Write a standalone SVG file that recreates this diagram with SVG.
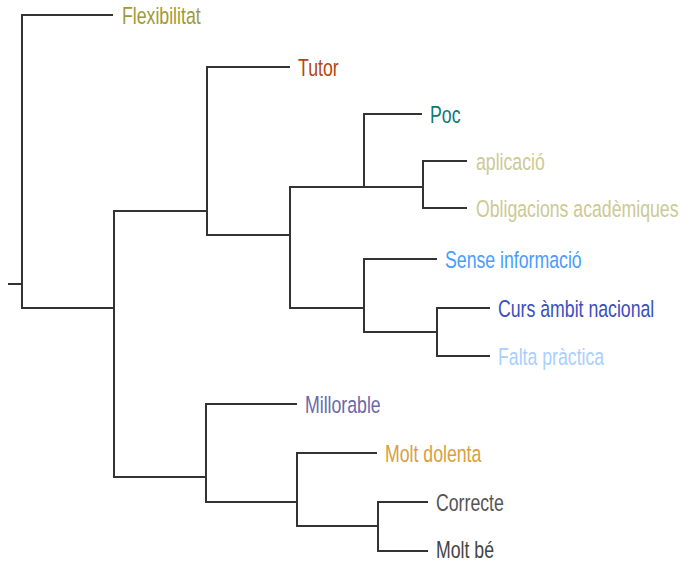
<svg xmlns="http://www.w3.org/2000/svg" width="681" height="563" viewBox="0 0 681 563">
  <style>
    .edge { fill: none; stroke: #333; stroke-width: 2; stroke-linejoin: miter; }
    .lbl { font-family: "Liberation Sans", Arial, sans-serif; font-size: 17.7px; }
  </style>
  <rect width="681" height="563" fill="#fff"/>

  <!-- dendrogram branches -->
  <g id="connectors">
    <path class="edge" d="M8,284 H22"/>
    <path class="edge" d="M113,15 H22 V308 H114"/>
    <path class="edge" d="M207,211 H114 V477 H206"/>
    <path class="edge" d="M290,67 H207 V235 H290"/>
    <path class="edge" d="M364,187 H290 V308 H364"/>
    <path class="edge" d="M422,114 H364 V187 H423"/>
    <path class="edge" d="M467,161 H423 V208 H467"/>
    <path class="edge" d="M437,259 H364 V332 H437"/>
    <path class="edge" d="M490,308 H437 V356 H490"/>
    <path class="edge" d="M297,404 H206 V502 H297"/>
    <path class="edge" d="M377,453 H297 V526 H378"/>
    <path class="edge" d="M428,502 H378 V551 H428"/>
  </g>

  <!-- leaf labels -->
  <g id="flexibilitat"><text class="lbl" fill="#9e9a38" transform="translate(122,15) scale(1,1.4)" y="6.7">Flexibilitat</text></g>
  <g id="tutor"><text class="lbl" fill="#b3470e" transform="translate(298,67) scale(1,1.4)" y="6.7">Tutor</text></g>
  <g id="poc"><text class="lbl" fill="#0f7877" transform="translate(430,114) scale(1,1.4)" y="6.7">Poc</text></g>
  <g id="aplicacio"><text class="lbl" fill="#cdc993" transform="translate(476,161) scale(1,1.4)" y="6.7">aplicació</text></g>
  <g id="obligacions"><text class="lbl" fill="#cdc993" transform="translate(476,208) scale(1,1.4)" y="6.7">Obligacions acadèmiques</text></g>
  <g id="sense-informacio"><text class="lbl" fill="#4a9cff" transform="translate(445,259) scale(1,1.4)" y="6.7">Sense informació</text></g>
  <g id="curs-ambit"><text class="lbl" fill="#3a4fc0" transform="translate(498,308) scale(1,1.4)" y="6.7">Curs àmbit nacional</text></g>
  <g id="falta-practica"><text class="lbl" fill="#a9cfff" transform="translate(498,356) scale(1,1.4)" y="6.7">Falta pràctica</text></g>
  <g id="millorable"><text class="lbl" fill="#6b6aa8" transform="translate(305,404) scale(1,1.4)" y="6.7">Millorable</text></g>
  <g id="molt-dolenta"><text class="lbl" fill="#d9a03e" transform="translate(385,453) scale(1,1.4)" y="6.7">Molt dolenta</text></g>
  <g id="correcte"><text class="lbl" fill="#555555" transform="translate(436,502) scale(1,1.4)" y="6.7">Correcte</text></g>
  <g id="molt-be"><text class="lbl" fill="#444444" transform="translate(436,551) scale(1,1.35)" y="5.0">Molt bé</text></g>
</svg>
